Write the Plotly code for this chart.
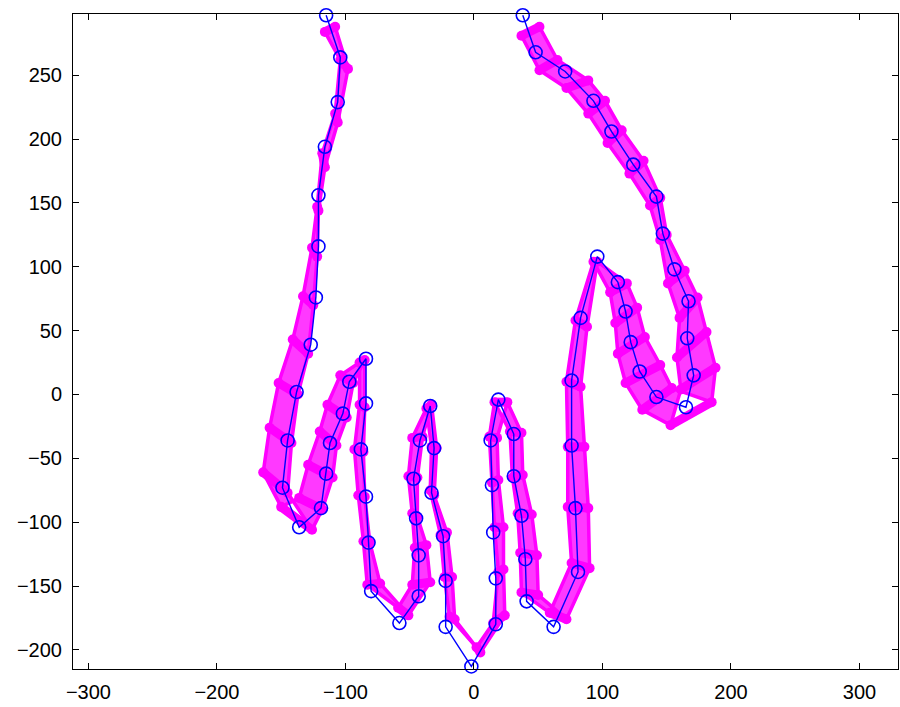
import plotly.graph_objects as go

# Blue mean shape (landmarks)
blue_x = [-115, -104, -106, -116, -121, -121, -123, -127, -138, -145, -149, -136,
          -119, -115, -112, -102, -97, -84, -84, -88, -84, -82, -80, -58,
          -43, -43, -45, -47, -42, -34, -31, -33, -24, -22, -22, -2,
          17, 17, 15, 14, 13, 19, 31, 31, 37, 40, 41, 62,
          81, 79, 76, 76, 83, 96, 112, 118, 122, 129, 142, 165,
          171, 166, 167, 156, 147, 142, 124, 107, 93, 71, 48, 38]
blue_y = [297, 264, 229, 194, 156, 116, 76, 39, 2, -36, -73, -104,
          -89, -62, -38, -15, 10, 28, -7, -43, -80, -116, -154, -179,
          -158, -126, -97, -66, -36, -9, -42, -77, -111, -146, -182, -213,
          -180, -144, -108, -71, -36, -4, -31, -64, -95, -129, -162, -182,
          -139, -89, -40, 11, 60, 108, 88, 65, 41, 18, -2, -10,
          15, 44, 73, 98, 126, 155, 180, 206, 230, 253, 268, 297]

# Magenta shape variation: extreme A
magA_x = [-116, -104, -108, -118, -122, -126, -133, -141, -152, -159, -164, -150,
          -136, -129, -120, -114, -104, -89, -89, -93, -90, -86, -83, -59,
          -48, -46, -48, -51, -48, -37, -33, -34, -26, -23, -19, 2,
          15, 19, 16, 14, 12, 16, 28, 30, 34, 36, 37, 59,
          76, 73, 73, 72, 79, 93, 106, 110, 112, 118, 131, 153,
          161, 158, 160, 151, 145, 137, 121, 104, 89, 72, 51, 37]
magA_y = [284, 262, 220, 189, 147, 115, 77, 43, 9, -26, -61, -88,
          -81, -55, -29, -8, 15, 25, -8, -43, -79, -115, -149, -167,
          -149, -120, -93, -64, -34, -11, -41, -75, -110, -143, -174, -198,
          -179, -139, -104, -69, -33, -6, -29, -65, -93, -124, -155, -171,
          -132, -88, -41, 10, 58, 104, 80, 56, 32, 9, -12, -24,
          4, 29, 60, 87, 121, 148, 173, 197, 220, 240, 254, 281]

# Magenta shape variation: extreme B
magB_x = [-108, -98, -106, -116, -121, -122, -125, -129, -137, -142, -145, -126,
          -118, -110, -107, -99, -94, -85, -85, -86, -85, -81, -73, -51,
          -34, -37, -44, -44, -40, -33, -29, -31, -21, -17, -15, 5,
          24, 23, 23, 19, 18, 26, 37, 38, 45, 49, 50, 72,
          90, 89, 86, 83, 88, 96, 119, 127, 133, 145, 154, 185,
          188, 181, 174, 164, 150, 145, 132, 115, 102, 89, 65, 51]
magB_y = [288, 255, 213, 178, 144, 108, 70, 32, 0, -38, -77, -106,
          -90, -65, -40, -18, 9, 27, -10, -45, -80, -116, -148, -173,
          -147, -118, -96, -65, -33, -8, -42, -79, -108, -143, -176, -202,
          -173, -137, -104, -67, -34, -6, -30, -63, -94, -126, -157, -176,
          -136, -89, -41, 6, 53, 104, 87, 68, 45, 23, 5, -6,
          21, 49, 76, 97, 125, 154, 183, 207, 230, 246, 262, 288]

MAG = "#ff00ff"
n = len(blue_x)

# band fill between the two extreme magenta shapes
qx, qy = [], []
for i in range(n - 1):
    qx += [magA_x[i], magA_x[i + 1], magB_x[i + 1], magB_x[i], magA_x[i], None]
    qy += [magA_y[i], magA_y[i + 1], magB_y[i + 1], magB_y[i], magA_y[i], None]

# rungs joining corresponding landmarks
rx, ry = [], []
for i in range(n):
    rx += [magA_x[i], magB_x[i], None]
    ry += [magA_y[i], magB_y[i], None]

fig = go.Figure()
fig.add_trace(go.Scatter(x=qx, y=qy, mode="lines", fill="toself",
                         fillcolor="rgba(255,30,255,0.88)",
                         line=dict(width=2, color="rgba(255,0,255,1)"),
                         hoverinfo="skip", showlegend=False))
fig.add_trace(go.Scatter(x=rx, y=ry, mode="lines",
                         line=dict(width=9, color=MAG),
                         hoverinfo="skip", showlegend=False))
for xs, ys in ((magA_x, magA_y), (magB_x, magB_y)):
    fig.add_trace(go.Scatter(x=xs, y=ys, mode="lines+markers",
                             line=dict(width=3.5, color=MAG),
                             marker=dict(size=10, color=MAG),
                             showlegend=False))
fig.add_trace(go.Scatter(x=blue_x, y=blue_y, mode="lines+markers",
                         line=dict(width=1.4, color="#0000ff"),
                         marker=dict(size=13, symbol="circle-open",
                                     color="#0000ff", line=dict(width=1.6)),
                         cliponaxis=False, showlegend=False))

axis_common = dict(showgrid=False, zeroline=False, showline=True, mirror="ticks",
                   linecolor="black", linewidth=1, ticks="inside", ticklen=6,
                   tickcolor="black", tickwidth=1,
                   tickfont=dict(family="Liberation Sans, Arial", size=20, color="black"))

fig.update_layout(
    width=900, height=707,
    margin=dict(l=73, r=2, t=14, b=38),
    paper_bgcolor="white", plot_bgcolor="white",
    xaxis=dict(range=[-312, 330], tickvals=[-300, -200, -100, 0, 100, 200, 300],
               ticklabelstandoff=5, **axis_common),
    yaxis=dict(range=[-215, 298], tickvals=[-200, -150, -100, -50, 0, 50, 100, 150, 200, 250],
               ticklabelstandoff=6, **axis_common),
)

fig.write_html("out.html", config={"displayModeBar": False},
               post_script="document.body.style.margin='0';document.body.style.overflow='hidden';")
